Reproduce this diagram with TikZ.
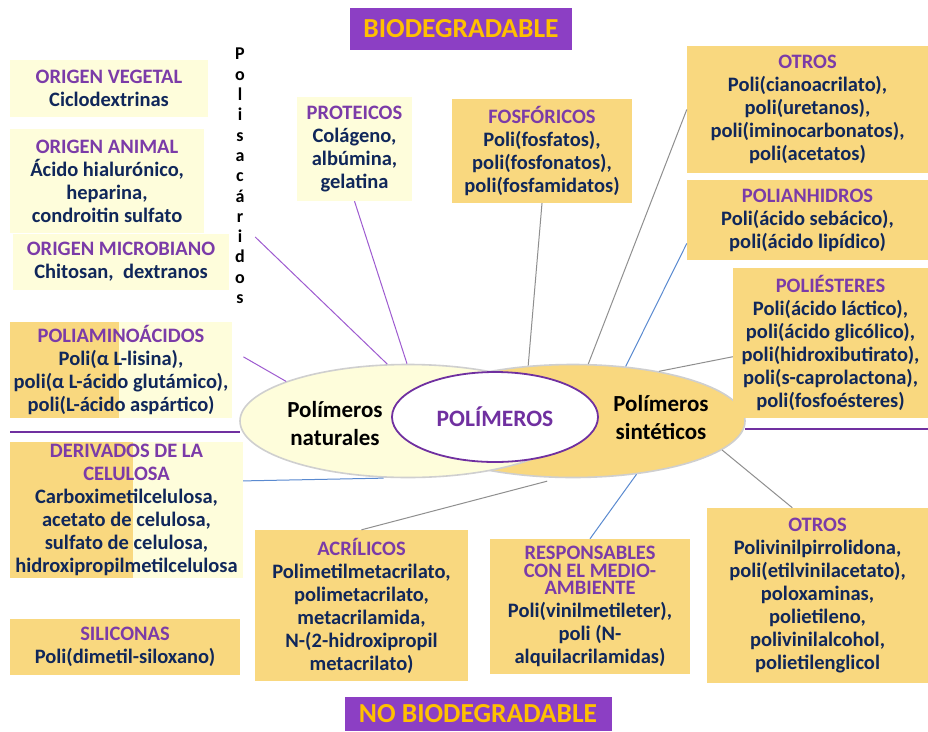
\documentclass[tikz,border=0pt]{standalone}
\usepackage{fontspec}
\setmainfont{Carlito}
\usepackage{tikz}
\usetikzlibrary{shapes.geometric}
\usetikzlibrary{positioning}

\definecolor{sinfill}{HTML}{F9D87F}
\definecolor{natfill}{HTML}{FEFDDB}
\definecolor{ttlpurple}{HTML}{7B3BA8}
\definecolor{bodynavy}{HTML}{10275A}
\definecolor{bannerpurple}{HTML}{8C3FC4}
\definecolor{bannergold}{HTML}{FFC000}
\definecolor{seppurple}{HTML}{7030A0}
\definecolor{ellgray}{HTML}{CFCFCF}
\definecolor{linkpurple}{HTML}{9E5BD0}
\definecolor{linkgray}{HTML}{8F8F8F}
\definecolor{linkblue}{HTML}{5A8AD0}

\newcommand{\ttl}[1]{\textcolor{ttlpurple}{#1}}

\tikzset{
  box/.style={inner sep=0pt, align=center, text=bodynavy,
    font=\bfseries\fontsize{20.5}{23}\selectfont},
  natbox/.style={box, fill=natfill},
  sinbox/.style={box, fill=sinfill},
  mixbox/.style={natbox, path picture={\fill[sinfill]
    (path picture bounding box.south west) rectangle
    ([xshift=#1]path picture bounding box.north west);}},
  banner/.style={fill=bannerpurple, text=bannergold, inner sep=0pt,
    font=\bfseries\fontsize{27.5}{30}\selectfont},
  oval/.style={ellipse, draw=ellgray, line width=1.6pt, inner sep=0pt},
  ovaltext/.style={align=center, text=black,
    font=\bfseries\fontsize{23}{28}\selectfont},
  natlink/.style={linkpurple, line width=1pt},
  sinlink/.style={linkgray, line width=1pt},
  bluelink/.style={linkblue, line width=1pt},
  sepline/.style={seppurple, line width=2.6pt}
}

\begin{document}
\begin{tikzpicture}[x=1pt, y=-1pt]
  \path[use as bounding box, fill=white] (0,0) rectangle (928,731);

  % central ovals
  \node[oval, fill=sinfill, minimum width=344pt, minimum height=113pt] (sin) at (573,421) {};
  \node[oval, fill=natfill, minimum width=336pt, minimum height=113pt] (nat) at (408,421) {};
  \node[ellipse, draw=seppurple, line width=1.8pt, fill=white, minimum width=206pt,
        minimum height=90pt, text=seppurple, font=\bfseries\fontsize{23.5}{26}\selectfont] (pol) at (495,417) {POLÍMEROS};
  \node[ovaltext] (natlbl) at (335,424) {Polímeros\\naturales};
  \node[ovaltext] (sinlbl) at (661,418) {Polímeros\\sintéticos};

  % banners
  \node[banner, minimum width=222pt, minimum height=42pt] (bio) at (461,29) {BIODEGRADABLE};
  \node[banner, minimum width=267pt, minimum height=34pt] (nobio) at (478,714) {NO BIODEGRADABLE};

  % natural side
  \node[natbox, minimum width=198pt, minimum height=57pt] (veg) at (109,88.5)
    {\ttl{ORIGEN VEGETAL}\\Ciclodextrinas};
  \node[natbox, minimum width=194pt, minimum height=104pt] (ani) at (107,181)
    {\ttl{ORIGEN ANIMAL}\\Ácido hialurónico,\\heparina,\\condroitin sulfato};
  \node[natbox, minimum width=216pt, minimum height=56pt] (mic) at (121,262)
    {\ttl{ORIGEN MICROBIANO}\\Chitosan,\ \ dextranos};
  \node[box, text=black, minimum width=30pt, font=\bfseries\fontsize{18}{20.3}\selectfont] (polisac) at (240,176)
    {P\\o\\l\\i\\s\\a\\c\\á\\r\\i\\d\\o\\s};
  \node[natbox, minimum width=115pt, minimum height=104pt] (prot) at (354.5,149)
    {\ttl{PROTEICOS}\\Colágeno,\\albúmina,\\gelatina};
  \node[mixbox=109pt, minimum width=222pt, minimum height=96pt] (amino) at (121,370)
    {\ttl{POLIAMINOÁCIDOS}\\Poli(α L-lisina),\\poli(α L-ácido glutámico),\\poli(L-ácido aspártico)};
  \node[mixbox=123pt, minimum width=233pt, minimum height=136pt] (deriv) at (126.5,510)
    {\ttl{DERIVADOS DE LA}\\\ttl{CELULOSA}\\Carboximetilcelulosa,\\acetato de celulosa,\\sulfato de celulosa,\\hidroxipropilmetilcelulosa};

  % synthetic side
  \node[sinbox, minimum width=180pt, minimum height=104pt] (fosf) at (542,151)
    {\ttl{FOSFÓRICOS}\\Poli(fosfatos),\\poli(fosfonatos),\\poli(fosfamidatos)};
  \node[sinbox, minimum width=241pt, minimum height=127pt] (otros1) at (807.5,109.5)
    {\ttl{OTROS}\\Poli(cianoacrilato),\\poli(uretanos),\\poli(iminocarbonatos),\\poli(acetatos)};
  \node[sinbox, minimum width=241pt, minimum height=80pt] (polianh) at (807.5,220)
    {\ttl{POLIANHIDROS}\\Poli(ácido sebácico),\\poli(ácido lipídico)};
  \node[sinbox, minimum width=195pt, minimum height=150pt] (polies) at (830.5,343)
    {\ttl{POLIÉSTERES}\\Poli(ácido láctico),\\poli(ácido glicólico),\\poli(hidroxibutirato),\\poli(s-caprolactona),\\poli(fosfoésteres)};
  \node[sinbox, minimum width=230pt, minimum height=56pt] (silic) at (125,647)
    {\ttl{SILICONAS}\\Poli(dimetil-siloxano)};
  \node[sinbox, minimum width=213pt, minimum height=151pt] (acril) at (361.5,605.5)
    {\ttl{ACRÍLICOS}\\Polimetilmetacrilato,\\polimetacrilato,\\metacrilamida,\\N-(2-hidroxipropil\\metacrilato)};
  \node[sinbox, minimum width=200pt, minimum height=135pt] (resp) at (590,606.5)
    {\ttl{RESPONSABLES}\\[-5.5pt]\ttl{CON EL MEDIO-}\\[-5.5pt]\ttl{AMBIENTE}\\Poli(vinilmetileter),\\poli (N-\\alquilacrilamidas)};
  \node[sinbox, minimum width=221pt, minimum height=175pt] (otros2) at (817.5,595.5)
    {\ttl{OTROS}\\Polivinilpirrolidona,\\poli(etilvinilacetato),\\poloxaminas,\\polietileno,\\polivinilalcohol,\\polietilenglicol};

  % separators
  \draw[sepline] (10,432) -- (240,432);
  \draw[sepline] (745,429) -- (928,429);

  % links
  \draw[natlink] (polisac.-76) -- (nat.110);
  \draw[natlink] (prot.south) -- (nat.91);
  \draw[natlink, shorten <=13pt] (amino.10) -- (nat.162);
  \draw[bluelink, shorten >=7pt] (deriv.14) -- (nat.-107);
  \draw[sinlink] (fosf.south) -- (sin.129);
  \draw[sinlink] (otros1.west) -- (sin.75);
  \draw[bluelink] (polianh.191) -- (sin.46);
  \draw[sinlink] (polies.188) -- (sin.30);
  \draw[sinlink] (otros2.106) -- (sin.-11);
  \draw[bluelink] (resp.north) -- (sin.-40);
  \draw[sinlink, shorten >=12pt] (acril.north) -- (sin.-104);
\end{tikzpicture}
\end{document}
